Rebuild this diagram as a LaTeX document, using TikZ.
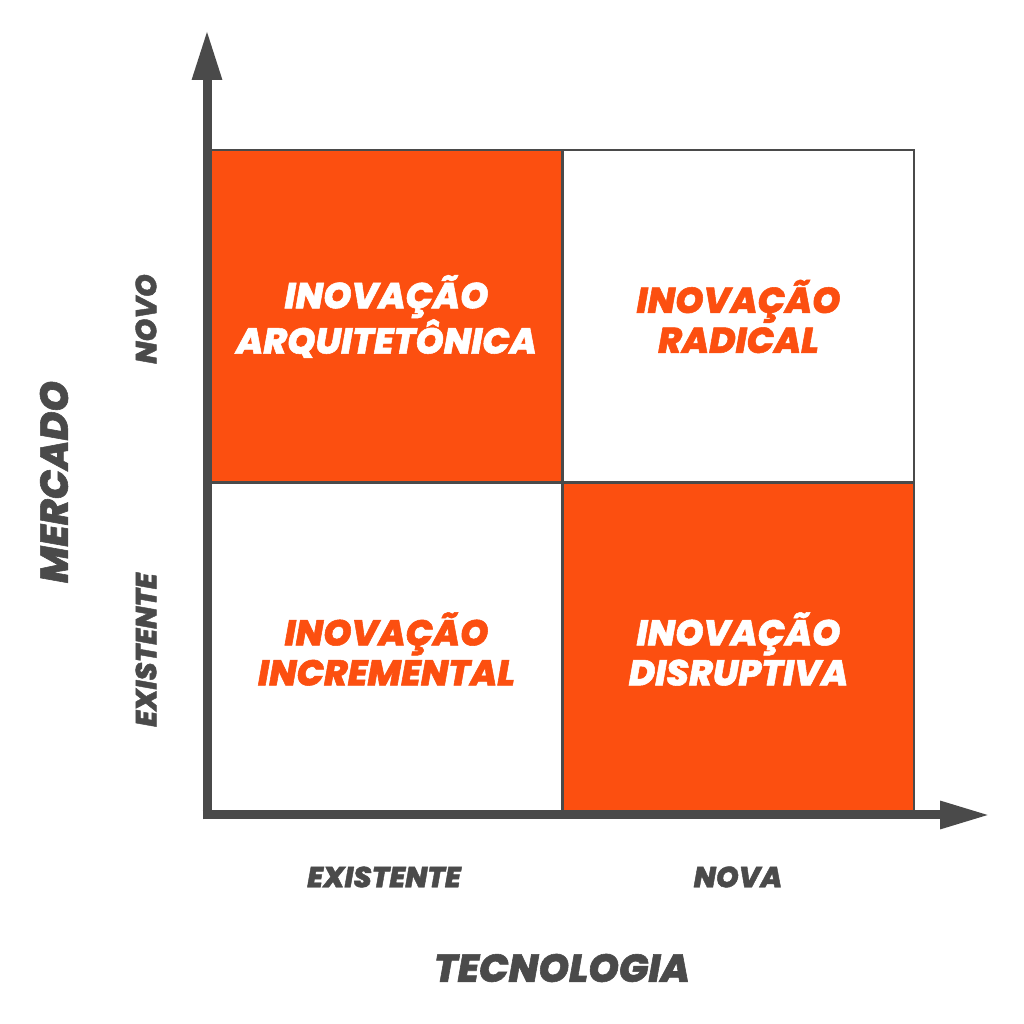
\documentclass[tikz,border=0pt]{standalone}
\usepackage{fontspec}
\setmainfont{Poppins}
\newfontfamily\heavy{Poppins ExtraBold Italic}[FakeBold=1.5]
\usetikzlibrary{arrows.meta,positioning}
\definecolor{axisgray}{HTML}{4A4A4A}
\definecolor{innoorange}{HTML}{FC4F10}
\begin{document}
\begin{tikzpicture}[x=1pt,y=1pt,
    cell/.style={rectangle, draw=axisgray, line width=2.5pt, minimum width=351pt, minimum height=333pt, inner sep=0pt, align=center, font=\heavy\fontsize{36}{40}\selectfont},
    hotcell/.style={cell, fill=innoorange, text=white},
    coldcell/.style={cell, fill=white, text=innoorange},
    ticklabel/.style={text=axisgray, font=\heavy\fontsize{29}{30}\selectfont},
    axislabel/.style={text=axisgray, font=\heavy\fontsize{39}{40}\selectfont},
    axis/.style={draw=axisgray, line width=9pt, -{Triangle[length=50pt,width=28pt]}}]
        \useasboundingbox (0,0) rectangle (1024,1024);
        % Quadrants
        \node (arq) [hotcell] at (386.5,707.5) {INOVAÇÃO\\ARQUITETÔNICA};
        \node (rad) [coldcell] at (738.5,707.5) {INOVAÇÃO\\RADICAL};
        \node (inc) [coldcell] at (386.5,375) {INOVAÇÃO\\INCREMENTAL};
        \node (dis) [hotcell] at (738.5,375) {INOVAÇÃO\\DISRUPTIVA};
        
        % Axes
        \coordinate (origin) at (207,209);
        \coordinate (ytip) at (207,994);
        \coordinate (xtip) at (990,209);
        \draw[axis] ([yshift=-4.5pt]origin) -- (ytip);
        \draw[axis, -{Triangle[length=50pt,width=26pt]}] ([xshift=-4.5pt]origin) -- (xtip);
        
        % Labels
        \node (novo) [ticklabel, rotate=90] at (146,705) {NOVO};
        \node (exm) [ticklabel, rotate=90] at (146,374) {EXISTENTE};
        \node (mercado) [axislabel, rotate=90] at (54,542) {MERCADO};
        \node (ext) [ticklabel] at (384,147) {EXISTENTE};
        \node (nova) [ticklabel] at (738,147) {NOVA};
        \node (tecnologia) [axislabel] at (562,56) {TECNOLOGIA};
    \end{tikzpicture}
\end{document}
